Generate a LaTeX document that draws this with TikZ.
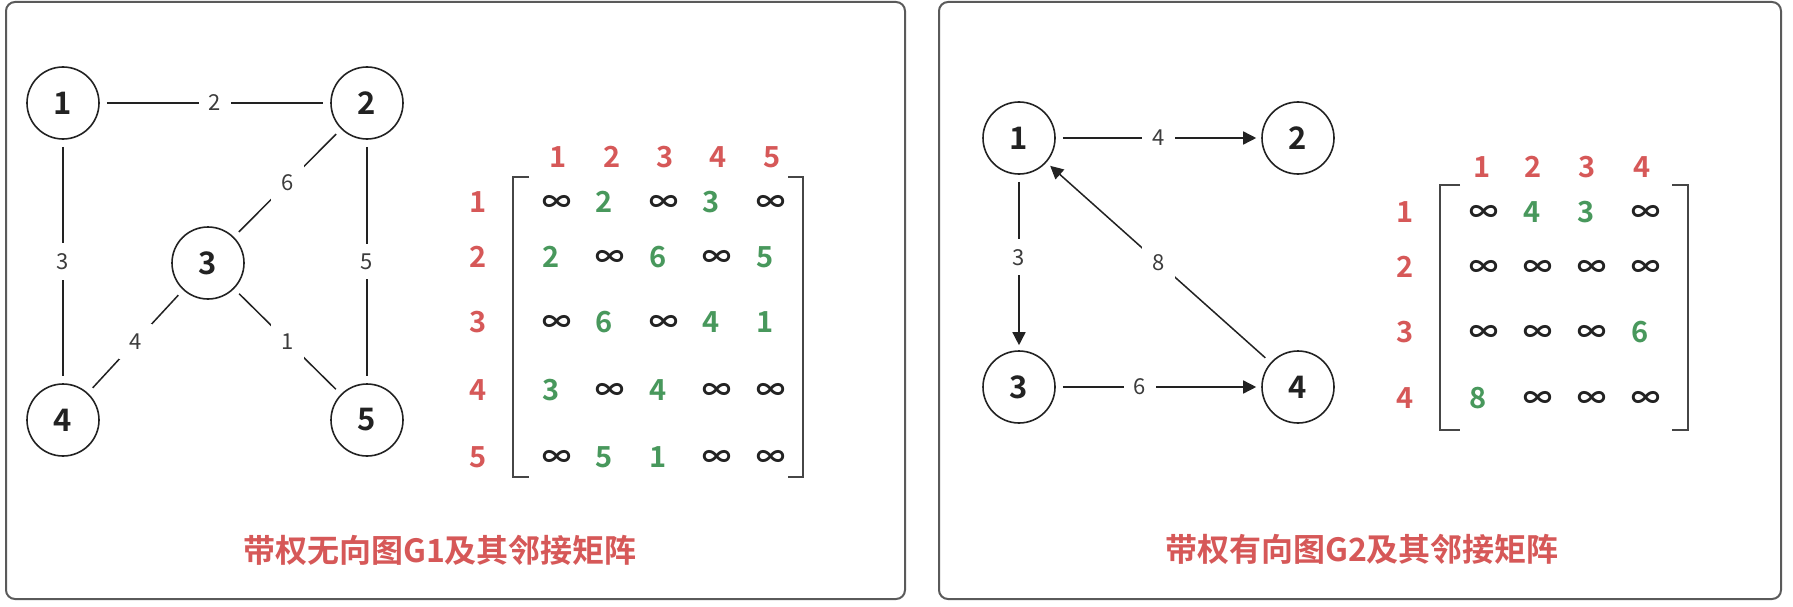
\documentclass[tikz,border=0pt]{standalone}
\usepackage{fontspec}
\setmainfont{Noto Sans CJK SC}[BoldFont={Noto Sans CJK SC Bold}]
\usetikzlibrary{arrows.meta}
\definecolor{myred}{RGB}{214,88,88}
\definecolor{mygreen}{RGB}{72,152,92}
\definecolor{dark}{RGB}{34,34,34}
\definecolor{labgray}{RGB}{60,60,60}
\definecolor{brkgray}{RGB}{70,70,70}
\definecolor{border}{RGB}{90,90,90}
\newcommand\mrow[5]{%
  \foreach \v [count=\c] in {#5} {%
    \def\tmpi{i}%
    \ifx\v\tmpi
      \node[inf] (#1-\c) at ({#2+(\c-1)*#3},#4) {∞};
    \else
      \node[num] (#1-\c) at ({#2+(\c-1)*#3},#4) {\v};
    \fi
  }%
}
\begin{document}
\begin{tikzpicture}[x=1pt,y=-1pt,
  vtx/.style={circle,draw=dark,line width=1.6pt,minimum size=72pt,inner sep=0pt,
    font=\bfseries\fontsize{31}{31}\selectfont,text=dark},
  wlab/.style={fill=white,inner sep=10pt,font=\fontsize{22}{22}\selectfont,text=labgray},
  link/.style={draw=dark,line width=1.5pt,shorten <=7pt,shorten >=7pt},
  arr/.style={link,-{Triangle[length=13pt,width=13pt]},shorten >=5pt},
  hdr/.style={font=\bfseries\fontsize{29}{29}\selectfont,text=myred,inner sep=0pt,
    text height=21pt,text depth=0pt},
  ent/.style={font=\bfseries\fontsize{29}{29}\selectfont,inner sep=0pt,anchor=west,
    text height=21pt,text depth=0pt},
  inf/.style={ent,text=dark},
  num/.style={ent,text=mygreen},
  brk/.style={draw=brkgray,line width=2pt},
  panel/.style={draw=border,line width=2pt,rounded corners=9pt,fill=white},
  ttl/.style={font=\bfseries\fontsize{32}{32}\selectfont,text=myred}
]
\useasboundingbox (0,0) rectangle (1793,607);
% panels
\draw[panel] (6,2) rectangle (905,599);
\draw[panel] (939,2) rectangle (1781,599);

% ---------- Graph G1 ----------
\node[vtx] (a1) at (63,103) {1};
\node[vtx] (a2) at (367,103) {2};
\node[vtx] (a3) at (208,263) {3};
\node[vtx] (a4) at (63,420) {4};
\node[vtx] (a5) at (367,420) {5};
\draw[link] (a1) -- node[wlab] (w12) {2} (a2);
\draw[link] (a2) -- node[wlab] (w23) {6} (a3);
\draw[link] (a1) -- node[wlab] (w14) {3} (a4);
\draw[link] (a2) -- node[wlab] (w25) {5} (a5);
\draw[link] (a3) -- node[wlab] (w34) {4} (a4);
\draw[link] (a3) -- node[wlab] (w35) {1} (a5);

% matrix 1
\foreach \k [count=\c] in {558,612,665,718,772}
  \node[hdr] (h1c\c) at (\k,157) {\c};
\foreach \yy [count=\r] in {202,257,322,390,457}
  \node[hdr] (h1r\r) at (478,\yy) {\r};
\mrow{ma1}{542}{53.5}{202}{i,2,i,3,i}
\mrow{ma2}{542}{53.5}{257}{2,i,6,i,5}
\mrow{ma3}{542}{53.5}{322}{i,6,i,4,1}
\mrow{ma4}{542}{53.5}{390}{3,i,4,i,i}
\mrow{ma5}{542}{53.5}{457}{i,5,1,i,i}
\draw[brk] (529,177) -- (513,177) -- (513,477) -- (529,477);
\draw[brk] (788,177) -- (803,177) -- (803,477) -- (788,477);

\node[ttl] (t1) at (440,550) {带权无向图G1及其邻接矩阵};

% ---------- Graph G2 ----------
\node[vtx] (b1) at (1019,138) {1};
\node[vtx] (b2) at (1298,138) {2};
\node[vtx] (b3) at (1019,387) {3};
\node[vtx] (b4) at (1298,387) {4};
\draw[arr] (b1) -- node[wlab] (v12) {4} (b2);
\draw[arr] (b1) -- node[wlab,pos=0.47] (v13) {3} (b3);
\draw[arr] (b4) -- node[wlab] (v41) {8} (b1);
\draw[arr] (b3) -- node[wlab,pos=0.41] (v34) {6} (b4);

% matrix 2
\foreach \k [count=\c] in {1482,1533,1587,1642}
  \node[hdr] (h2c\c) at (\k,167) {\c};
\foreach \yy [count=\r] in {212,267,332,398}
  \node[hdr] (h2r\r) at (1405,\yy) {\r};
\mrow{mb1}{1469}{54}{212}{i,4,3,i}
\mrow{mb2}{1469}{54}{267}{i,i,i,i}
\mrow{mb3}{1469}{54}{332}{i,i,i,6}
\mrow{mb4}{1469}{54}{398}{8,i,i,i}
\draw[brk] (1460,185) -- (1440,185) -- (1440,430) -- (1460,430);
\draw[brk] (1672,185) -- (1688,185) -- (1688,430) -- (1672,430);

\node[ttl] (t2) at (1362,549) {带权有向图G2及其邻接矩阵};
\end{tikzpicture}
\end{document}
